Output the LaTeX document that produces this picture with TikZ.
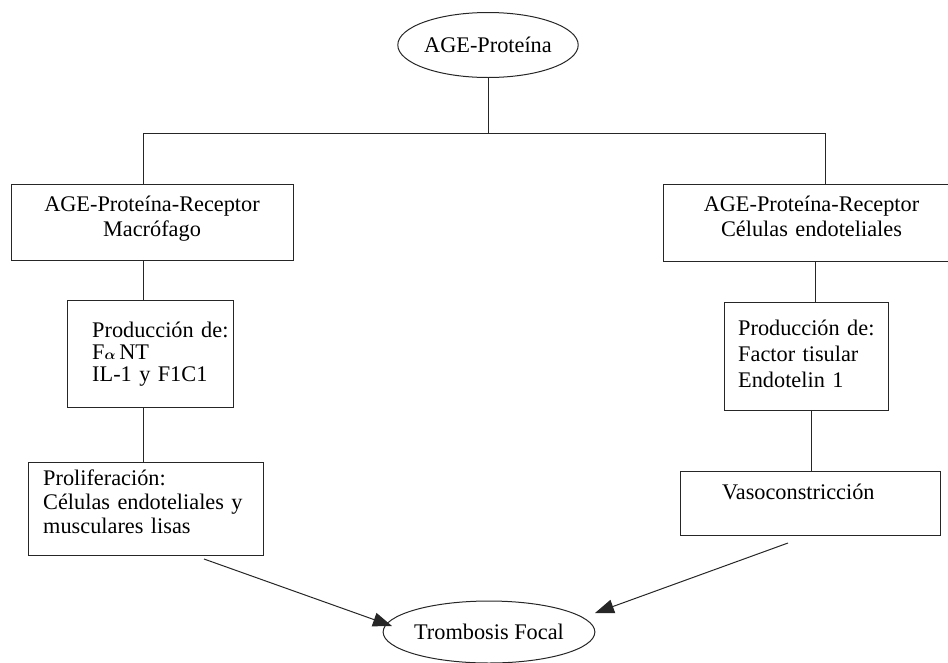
\documentclass[tikz,border=0pt]{standalone}
\usepackage{fontspec}
\usepackage{amsmath}
\setmainfont{Liberation Serif}
\usetikzlibrary{shapes.geometric,arrows.meta}
\begin{document}
\begin{tikzpicture}[x=1pt,y=-1pt,
  ln/.style={line width=1pt, draw=black!85},
  box/.style={ln, rectangle, inner sep=0pt},
  oval/.style={ln, ellipse, inner sep=0pt, font=\fontsize{22.3}{24}\selectfont},
  txt/.style={inner sep=0pt, anchor=base west, text width=300pt, align=left, font=\fontsize{22.3}{24}\selectfont},
  ctxt/.style={inner sep=0pt, anchor=base, text width=300pt, align=center, font=\fontsize{22.3}{25}\selectfont},
  arr/.style={ln, -{Triangle[length=19pt,width=14pt]}}]
\useasboundingbox (0,0) rectangle (948,662);
\clip (0,0) rectangle (948,662);

% ellipses
\node[oval, minimum width=177pt, minimum height=65pt] (top) at (488,45) {AGE-Proteína};
\node[oval, minimum width=186pt, minimum height=62pt] (bot) at (489,632) {Trombosis Focal};

% boxes
\node[box, minimum width=282pt, minimum height=76pt] (L1) at (152,222) {};
\node[box, minimum width=166pt, minimum height=107pt] (L2) at (150,353.5) {};
\node[box, minimum width=235pt, minimum height=93pt] (L3) at (145.5,508.5) {};
\node[box, minimum width=297pt, minimum height=77pt] (R1) at (811.5,222.5) {};
\node[box, minimum width=164pt, minimum height=108pt] (R2) at (806,356) {};
\node[box, minimum width=260pt, minimum height=64pt] (R3) at (810,503) {};

% texts
\node[ctxt] (tL1) at (152,211) {AGE-Proteína-Receptor\\Macrófago};
\node[ctxt] (tR1) at (811.5,211) {AGE-Proteína-Receptor\\Células endoteliales};
\node[txt, font=\fontsize{22.3}{22}\selectfont] (tL2) at (92,337) {Producción de:\\F{\fontsize{15}{15}\selectfont$\boldsymbol{\alpha}$}\,NT\\IL-1 y F1C1};
\node[txt] (tL3) at (43,485) {Proliferación:\\Células endoteliales y\\musculares lisas};
\node[txt, font=\fontsize{22.3}{26}\selectfont] (tR2) at (738,335) {Producción de:\\Factor tisular\\Endotelin 1};
\node[txt] (tR3) at (722,499) {Vasoconstricción};

% helper coordinates
\coordinate (hl1) at (143,133);
\coordinate (hl2) at (825,133);
\coordinate (cL) at (143,0);
\coordinate (cR1) at (815,0);
\coordinate (cR2) at (811,0);
\coordinate (a1) at (204,559);
\coordinate (t1) at (392,626);
\coordinate (a2) at (788,543);
\coordinate (t2) at (595,613);

% connectors
\draw[ln] (top.south) -- (top.south |- hl1);
\draw[ln] (hl1) -- (hl2);
\draw[ln] (hl1) -- (hl1 |- L1.north);
\draw[ln] (cL |- L1.south) -- (cL |- L2.north);
\draw[ln] (cL |- L2.south) -- (cL |- L3.north);
\draw[ln] (hl2) -- (hl2 |- R1.north);
\draw[ln] (cR1 |- R1.south) -- (cR1 |- R2.north);
\draw[ln] (cR2 |- R2.south) -- (cR2 |- R3.north);
\draw[arr] (a1) -- (t1);
\draw[arr] (a2) -- (t2);
\end{tikzpicture}
\end{document}
